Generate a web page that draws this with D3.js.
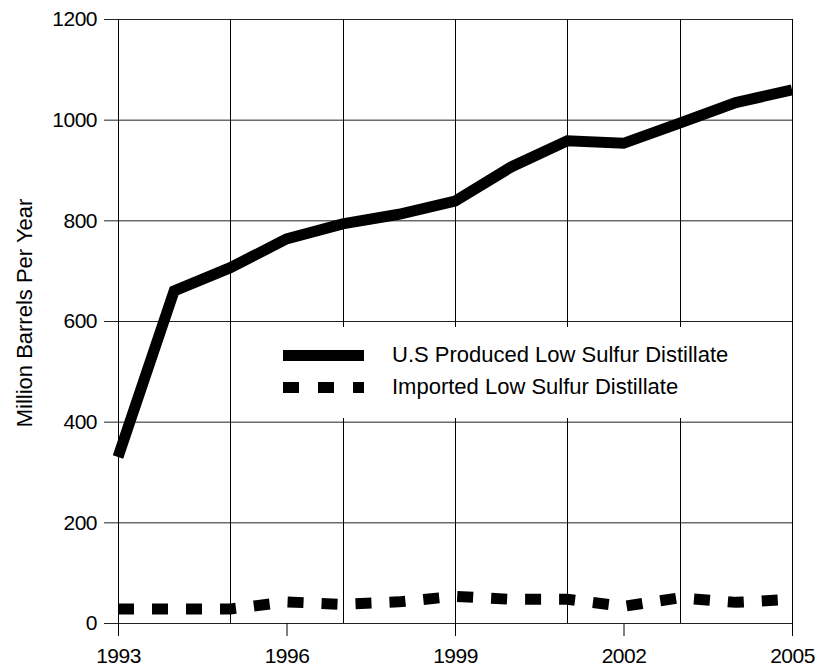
<!DOCTYPE html>
<html>
<head>
<meta charset="utf-8">
<script src="https://cdn.jsdelivr.net/npm/d3@7"></script>
<style>
  body { margin: 0; background: #fff; }
  text { font-family: "Liberation Sans", Arial, sans-serif; fill: #000; }
</style>
</head>
<body>
<div id="chart"></div>
<script>
// values
const years = [1993, 1994, 1995, 1996, 1997, 1998, 1999, 2000, 2001, 2002, 2003, 2004, 2005];
const producedLowSulfur = [330, 660, 706, 763, 793, 812, 838, 906, 958, 953, 993, 1034, 1059];
const importedLowSulfur = [28, 28, 28, 42, 37, 42, 53, 47, 47, 33, 50, 41, 47];
const xTickYears = [1993, 1996, 1999, 2002, 2005];
const xGridYears = [1995, 1997, 1999, 2001, 2003];
const yTicks = [0, 200, 400, 600, 800, 1000, 1200];
const seriesNames = ["U.S Produced Low Sulfur Distillate", "Imported Low Sulfur Distillate"];

const width = 815, height = 668;
const plotLeft = 118, plotRight = 792, plotTop = 19, plotBottom = 623;

const svg = d3.select("#chart").append("svg")
    .attr("width", width)
    .attr("height", height);

const x = d3.scaleLinear().domain([1993, 2005]).range([plotLeft, plotRight]);
const y = d3.scaleLinear().domain([0, 1200]).range([plotBottom, plotTop]);

// horizontal grid + y axis ticks
const yAxis = d3.axisLeft(y)
    .tickValues(yTicks)
    .tickSize(-(plotRight - plotLeft))
    .tickSizeOuter(0)
    .tickPadding(0)
    .tickFormat(d3.format("d"));

const gy = svg.append("g")
    .attr("transform", `translate(${plotLeft},0)`)
    .call(yAxis);
gy.select(".domain").remove();
gy.selectAll(".tick line")
    .attr("x1", -14)
    .attr("stroke", "#222")
    .attr("stroke-width", 1);
gy.selectAll(".tick text")
    .attr("x", -21)
    .attr("dy", "0.33em")
    .attr("font-size", 21)
    .attr("font-family", "Liberation Sans, Arial, sans-serif")
    .attr("letter-spacing", -0.5);

// vertical grid lines every two years
svg.append("g").selectAll("line")
    .data(xGridYears)
    .enter()
    .append("line")
    .attr("x1", d => Math.round(x(d)) + 0.5)
    .attr("x2", d => Math.round(x(d)) + 0.5)
    .attr("y1", plotTop)
    .attr("y2", plotBottom)
    .attr("stroke", "#000")
    .attr("stroke-width", 1);

// x axis ticks + labels
const xAxis = d3.axisBottom(x)
    .tickValues(xTickYears)
    .tickSize(13)
    .tickSizeOuter(0)
    .tickPadding(12)
    .tickFormat(d3.format("d"));

const gx = svg.append("g")
    .attr("transform", `translate(0,${plotBottom})`)
    .call(xAxis);
gx.select(".domain").remove();
gx.selectAll(".tick line").attr("stroke", "#000");
gx.selectAll(".tick text")
    .attr("font-size", 21)
    .attr("font-family", "Liberation Sans, Arial, sans-serif")
    .attr("letter-spacing", -0.5);

// left and right frame lines (run down to the tick length)
svg.append("line")
    .attr("x1", plotLeft + 0.5).attr("x2", plotLeft + 0.5)
    .attr("y1", plotTop).attr("y2", plotBottom + 13)
    .attr("stroke", "#000");
svg.append("line")
    .attr("x1", plotRight + 0.5).attr("x2", plotRight + 0.5)
    .attr("y1", plotTop).attr("y2", plotBottom + 13)
    .attr("stroke", "#000");

// legend box (white, hides grid behind it)
const legendX = 262, legendY = 327;
svg.append("rect")
    .attr("x", legendX)
    .attr("y", legendY)
    .attr("width", plotRight - legendX)
    .attr("height", 91)
    .attr("fill", "#fff");

const legendItems = [
    { name: seriesNames[0], dash: null, y: 355.5 },
    { name: seriesNames[1], dash: "16,19", y: 387.5 }
];
const lg = svg.append("g");
lg.selectAll("line")
    .data(legendItems)
    .enter()
    .append("line")
    .attr("x1", 283).attr("x2", 364)
    .attr("y1", d => d.y).attr("y2", d => d.y)
    .attr("stroke", "#000")
    .attr("stroke-width", 11)
    .attr("stroke-dasharray", d => d.dash);
lg.selectAll("text")
    .data(legendItems)
    .enter()
    .append("text")
    .attr("x", 392)
    .attr("y", d => d.y + 6.5)
    .attr("font-size", 22)
    .text(d => d.name);

// series lines
const line = d3.line()
    .x(d => x(d[0]))
    .y(d => y(d[1]));

svg.append("path")
    .datum(years.map((yr, i) => [yr, producedLowSulfur[i]]))
    .attr("d", line)
    .attr("fill", "none")
    .attr("stroke", "#000")
    .attr("stroke-width", 11)
    .attr("stroke-linejoin", "miter");

svg.append("path")
    .datum(years.map((yr, i) => [yr, importedLowSulfur[i]]))
    .attr("d", line)
    .attr("fill", "none")
    .attr("stroke", "#000")
    .attr("stroke-width", 11)
    .attr("stroke-dasharray", "16,18");

// y axis title
svg.append("text")
    .attr("transform", "translate(32,313) rotate(-90)")
    .attr("text-anchor", "middle")
    .attr("font-size", 22)
    .text("Million Barrels Per Year");
</script>
</body>
</html>
